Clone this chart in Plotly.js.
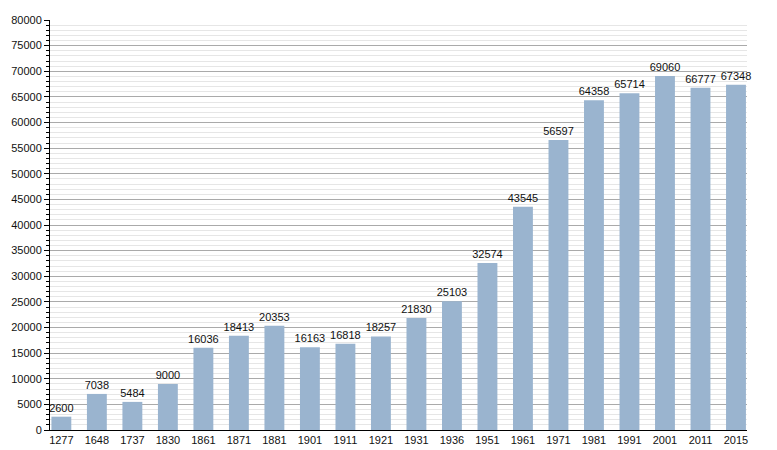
<!DOCTYPE html>
<html>
<head>
<meta charset="utf-8">
<script src="https://cdn.plot.ly/plotly-3.0.1.min.js"></script>
<style>
  html, body { margin: 0; padding: 0; background: #fff; }
  #chart { width: 777px; height: 450px; }
</style>
</head>
<body>
<div id="chart"></div>
<script>
var years = ['1277', '1648', '1737', '1830', '1861', '1871', '1881', '1901', '1911', '1921',
             '1931', '1936', '1951', '1961', '1971', '1981', '1991', '2001', '2011', '2015'];
var population = [2600, 7038, 5484, 9000, 16036, 18413, 20353, 16163, 16818, 18257,
                  21830, 25103, 32574, 43545, 56597, 64358, 65714, 69060, 66777, 67348];

var trace = {
  x: years,
  y: population,
  type: 'bar',
  width: 0.56,
  text: population.map(String),
  texttemplate: '%{text}',
  textposition: 'outside',
  constraintext: 'none',
  cliponaxis: false,
  outsidetextfont: {color: '#111111', size: 11, family: 'Liberation Sans, Arial, sans-serif'},
  marker: {color: '#9ab4cf'},
  hoverinfo: 'x+y'
};

var layout = {
  width: 777,
  height: 450,
  margin: {l: 50, r: 30, t: 20, b: 20},
  paper_bgcolor: '#fff',
  plot_bgcolor: '#fff',
  showlegend: false,
  uniformtext: {mode: false},
  font: {family: 'Liberation Sans, Arial, sans-serif', size: 11, color: '#111'},
  xaxis: {
    type: 'category',
    range: [-0.32, 19.31],
    showgrid: false,
    showline: true,
    linecolor: '#000',
    linewidth: 1,
    ticks: '',
    tickfont: {size: 11, color: '#111'},
    fixedrange: true
  },
  yaxis: {
    range: [0, 80000],
    dtick: 5000,
    tick0: 0,
    tickformat: 'd',
    showline: true,
    linecolor: '#000',
    linewidth: 1,
    ticks: 'outside',
    ticklen: 5,
    tickcolor: '#000',
    gridcolor: '#aaaaaa',
    zeroline: false,
    tickfont: {size: 11, color: '#111'},
    minor: {
      dtick: 1000,
      showgrid: true,
      gridcolor: '#e6e6e6',
      ticks: 'outside',
      ticklen: 3,
      tickcolor: '#000'
    },
    fixedrange: true
  },
  bargap: 0.44
};

var config = {responsive: false, displayModeBar: false};

Plotly.newPlot('chart', [trace], layout, config);
</script>
</body>
</html>
